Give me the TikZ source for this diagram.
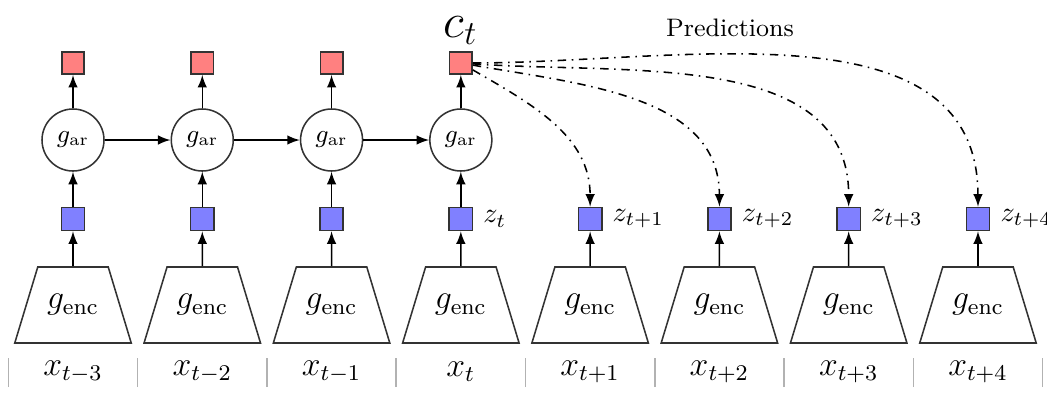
\documentclass[tikz,border=0pt]{standalone}
\usepackage{amsmath}
\usepackage{tikz}
\usetikzlibrary{arrows,positioning,shapes.geometric}

\begin{document}
\begin{tikzpicture}[
>=latex, line width=0.55pt,
ctx/.style={draw=black!80, fill=red!50, minimum size=0.28cm, inner sep=0pt},
lat/.style={draw=black!80, fill=blue!50, minimum size=0.29cm, inner sep=0pt},
ar/.style={circle, draw=black!80, minimum size=0.775cm, inner sep=0pt, font=\small},
enc/.style={trapezium, draw=black!80, trapezium stretches=true,
  minimum width=1.35cm, minimum height=0.95cm, font=\large},
pred/.style={->, dash dot},
]

\def \dx {1.616}
\def \xo {0.9125}

\useasboundingbox (0,0) rectangle (13.0875,4.9);

% encoders and latents
\foreach \i/\s in {0/t-3,1/t-2,2/t-1,3/t,4/t+1,5/t+2,6/t+3,7/t+4}
{
  \node[enc] (e\i) at ({\xo+\dx*\i},1.0875) {$g_{\text{enc}}$};
  \node[font=\large] (x\i) at ({\xo+\dx*\i},0.25) {$x_{\s}$};
  \node[lat] (z\i) at ({\xo+\dx*\i},2.1625) {};
  \draw[->] (e\i) -- (z\i);
  \draw[black!30] ({\xo+\dx*(\i-0.5)},0.0625) -- ({\xo+\dx*(\i-0.5)},0.425);
}
\draw[black!30] ({\xo+\dx*7.5},0.0625) -- ({\xo+\dx*7.5},0.425);

\foreach \i/\s in {3/t,4/t+1,5/t+2,6/t+3,7/t+4}
  \node[right=0pt of z\i] (lz\i) {$z_{\s}$};

% autoregressive part
\foreach \i in {0,...,3}
{
  \node[ar] (g\i) at ({\xo+\dx*\i},3.15) {$g_{\text{ar}}$};
  \node[ctx] (c\i) at ({\xo+\dx*\i},4.1125) {};
  \draw[->] (z\i) -- (g\i);
  \draw[->] (g\i) -- (c\i);
}
\foreach \i [count=\j from 1] in {0,1,2}
  \draw[->] (g\i) -- (g\j);

\node[font=\LARGE, inner sep=0pt] (ct) at ({\xo+\dx*3},4.52) {$c_t$};
\node[font=\small] (pr) at (9.125,4.55) {Predictions};

% predictions
\draw[pred] (c3) to[out=-30, in=90] (z4);
\draw[pred] (c3) to[out=-10, in=90] (z5);
\draw[pred] (c3) to[out=-4, in=90] (z6);
\draw[pred] (c3) to[out=0, in=90] (z7);
\end{tikzpicture}
\end{document}
